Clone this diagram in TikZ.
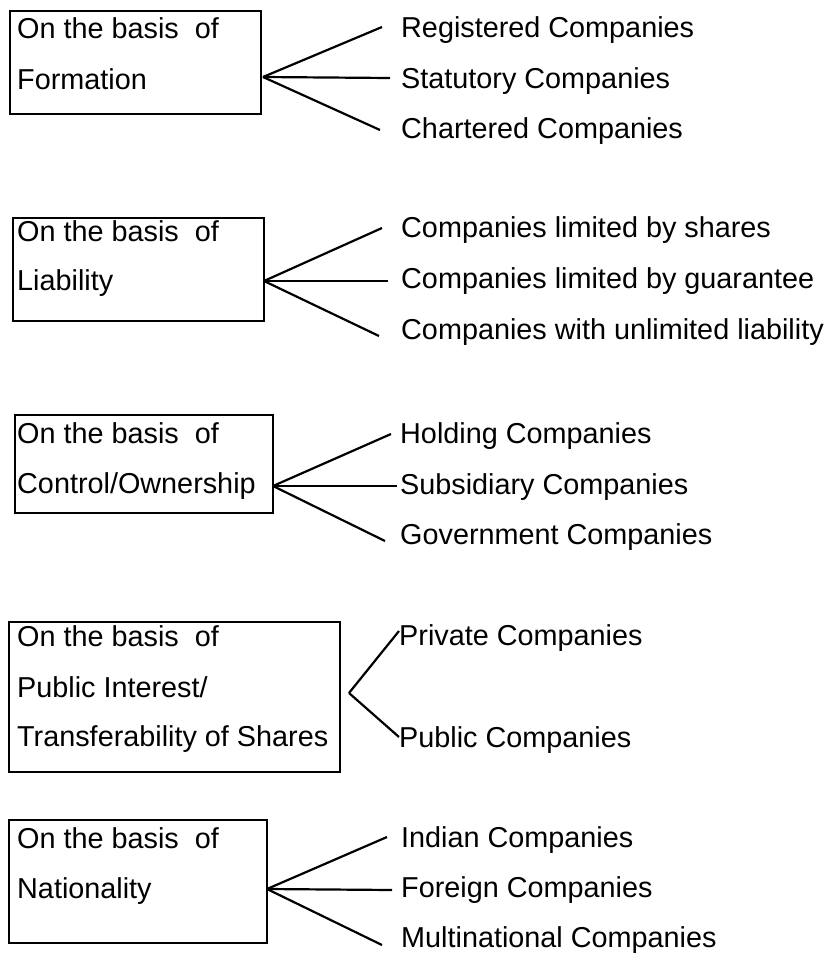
\documentclass[tikz,border=0pt]{standalone}
\usepackage{fontspec}
\setmainfont{Liberation Sans}
\begin{document}
\begin{tikzpicture}[x=1pt,y=-1pt,
  catbox/.style={draw, line width=2.2pt, rectangle, inner sep=0pt, anchor=north west},
  txt/.style={inner sep=0pt, anchor=base west, font=\fontsize{28.8}{35}\selectfont},
  conn/.style={line width=2.2pt}]
\useasboundingbox (0,0) rectangle (828,956);

% ---------- Section 1 ----------
\node[catbox, minimum width=251pt, minimum height=103pt] (b1) at (9,10) {};
\node[txt] (l11) at (17,38) {On the basis\ \ of};
\node[txt] (l12) at (17,89) {Formation};
\coordinate (f1) at (263,77);
\node[txt] (r11) at (401,37) {Registered Companies};
\node[txt] (r12) at (401,88) {Statutory Companies};
\node[txt] (r13) at (401,138) {Chartered Companies};
\draw[conn] (f1) -- ([shift={(-19pt,10pt)}]r11.base west);
\draw[conn] (f1) -- ([shift={(-11pt,10pt)}]r12.base west);
\draw[conn] (f1) -- ([shift={(-21pt,8pt)}]r13.base west);

% ---------- Section 2 ----------
\node[catbox, minimum width=251pt, minimum height=103pt] (b2) at (12,217) {};
\node[txt] (l21) at (17,241) {On the basis\ \ of};
\node[txt] (l22) at (17,290) {Liability};
\coordinate (f2) at (264,281);
\node[txt] (r21) at (401,237) {Companies limited by shares};
\node[txt] (r22) at (401,288) {Companies limited by guarantee};
\node[txt] (r23) at (401,339) {Companies with unlimited liability};
\draw[conn] (f2) -- ([shift={(-19pt,9pt)}]r21.base west);
\draw[conn] (f2) -- ([shift={(-13pt,7pt)}]r22.base west);
\draw[conn] (f2) -- ([shift={(-22pt,3pt)}]r23.base west);

% ---------- Section 3 ----------
\node[catbox, minimum width=258pt, minimum height=98pt] (b3) at (14,414) {};
\node[txt] (l31) at (17,443) {On the basis\ \ of};
\node[txt] (l32) at (17,493) {Control/Ownership};
\coordinate (f3) at (273,486);
\node[txt] (r31) at (400,443) {Holding Companies};
\node[txt] (r32) at (400,494) {Subsidiary Companies};
\node[txt] (r33) at (400,544) {Government Companies};
\draw[conn] (f3) -- ([shift={(-9pt,9pt)}]r31.base west);
\draw[conn] (f3) -- ([shift={(-3pt,8pt)}]r32.base west);
\draw[conn] (f3) -- ([shift={(-15pt,3pt)}]r33.base west);

% ---------- Section 4 ----------
\node[catbox, minimum width=331pt, minimum height=150pt] (b4) at (8,621) {};
\node[txt] (l41) at (17,646) {On the basis\ \ of};
\node[txt] (l42) at (17,697) {Public Interest/};
\node[txt] (l43) at (17,746) {Transferability of Shares};
\coordinate (f4) at (349,693);
\node[txt] (r41) at (399,645) {Private Companies};
\node[txt] (r42) at (399,747) {Public Companies};
\draw[conn] (f4) -- ([shift={(0pt,14pt)}]r41.base west);
\draw[conn] (f4) -- ([shift={(0pt,10pt)}]r42.base west);

% ---------- Section 5 ----------
\node[catbox, minimum width=258pt, minimum height=123pt] (b5) at (8,819) {};
\node[txt] (l51) at (17,848) {On the basis\ \ of};
\node[txt] (l52) at (17,898) {Nationality};
\coordinate (f5) at (267,889);
\node[txt] (r51) at (401,847) {Indian Companies};
\node[txt] (r52) at (401,897) {Foreign Companies};
\node[txt] (r53) at (401,947) {Multinational Companies};
\draw[conn] (f5) -- ([shift={(-14pt,10pt)}]r51.base west);
\draw[conn] (f5) -- ([shift={(-9pt,7pt)}]r52.base west);
\draw[conn] (f5) -- ([shift={(-19pt,2pt)}]r53.base west);
\end{tikzpicture}
\end{document}
